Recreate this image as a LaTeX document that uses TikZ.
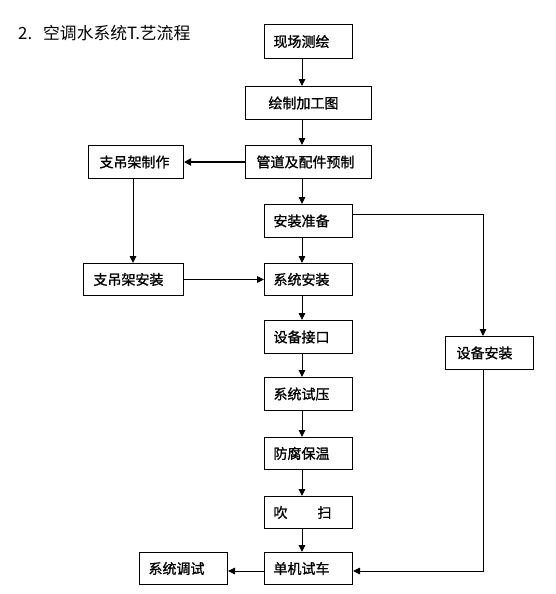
\documentclass[tikz,border=0pt]{standalone}
\usepackage{fontspec}
\usetikzlibrary{arrows.meta}
\newfontfamily\cjkb{Noto Sans CJK SC}[FakeBold=1.2]
\newfontfamily\cjkr{Noto Sans CJK SC}
\begin{document}
\begin{tikzpicture}[x=1pt,y=-1pt,
  box/.style={draw, line width=1pt, anchor=north west, inner sep=0pt, align=left,
    font=\cjkb\fontsize{14}{14}\selectfont},
  arr/.style={line width=0.9pt, -{Triangle[length=7pt,width=6.5pt]}},
  thickarr/.style={line width=2pt, -{Triangle[length=7pt,width=7pt]}}]
\useasboundingbox (0,0) rectangle (555,594);
\node[anchor=west, inner sep=0pt, font=\cjkr\fontsize{16.8}{16.8}\selectfont] (title) at (18,33)
  {\makebox[25pt][l]{2.}空调水系统T.艺流程};
% main column
\node[box, text width=88pt, minimum height=34pt] (a1) at (264,24) {\hspace*{9pt}现场测绘};
\node[box, text width=126pt, minimum height=33pt] (a2) at (245,86) {\hspace*{23pt}绘制加工图};
\node[box, text width=126pt, minimum height=33pt] (a3) at (245,145) {\hspace*{11pt}管道及配件预制};
\node[box, text width=88pt, minimum height=33pt] (a4) at (264,204) {\hspace*{9pt}安装准备};
\node[box, text width=88pt, minimum height=32pt] (a5) at (264,263) {\hspace*{9pt}系统安装};
\node[box, text width=88pt, minimum height=33pt] (a6) at (264,320) {\hspace*{9pt}设备接口};
\node[box, text width=88pt, minimum height=33pt] (a7) at (264,377) {\hspace*{9pt}系统试压};
\node[box, text width=88pt, minimum height=32pt] (a8) at (264,437) {\hspace*{9pt}防腐保温};
\node[box, text width=88pt, minimum height=32pt] (a9) at (264,496) {\hspace*{9pt}吹\hspace{30pt}扫};
\node[box, text width=88pt, minimum height=32pt] (a10) at (264,552) {\hspace*{9pt}单机试车};
% side boxes
\node[box, text width=95pt, minimum height=33pt] (b1) at (88,145) {\hspace*{11pt}支吊架制作};
\node[box, text width=100pt, minimum height=32pt] (b2) at (83,263) {\hspace*{10pt}支吊架安装};
\node[box, text width=88pt, minimum height=33pt] (c1) at (445,336) {\hspace*{11pt}设备安装};
\node[box, text width=88pt, minimum height=32pt] (d1) at (139,552) {\hspace*{9pt}系统调试};
% guide coordinates
\coordinate (mx) at (302,0);
\coordinate (bx) at (133,0);
\coordinate (rx) at (483,0);
\coordinate (ry1) at (0,214);
\coordinate (ry2) at (0,571);
% connectors
\draw[arr] (a1.south -| mx) -- (a2.north -| mx);
\draw[arr] (a2.south -| mx) -- (a3.north -| mx);
\draw[arr] (a3.south -| mx) -- (a4.north -| mx);
\draw[arr] (a4.south -| mx) -- (a5.north -| mx);
\draw[arr] (a5.south -| mx) -- (a6.north -| mx);
\draw[arr] (a6.south -| mx) -- (a7.north -| mx);
\draw[arr] (a7.south -| mx) -- (a8.north -| mx);
\draw[arr] (a8.south -| mx) -- (a9.north -| mx);
\draw[arr] (a9.south -| mx) -- (a10.north -| mx);
\draw[thickarr] (a3.west) -- (a3.west -| b1.east);
\draw[arr] (b1.south -| bx) -- (b2.north -| bx);
\draw[arr] (b2.east) -- (b2.east -| a5.west);
\draw[arr] (a4.east |- ry1) -| (c1.north -| rx);
\draw[arr] (c1.south -| rx) |- (a10.east |- ry2);
\draw[arr] (a10.west |- ry2) -- (d1.east |- ry2);
\end{tikzpicture}
\end{document}
